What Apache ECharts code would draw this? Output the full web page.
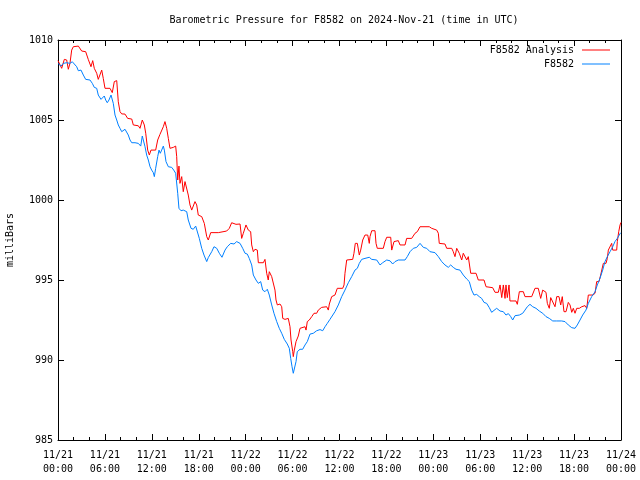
<!DOCTYPE html>
<html>
<head>
<meta charset="utf-8">
<script src="https://cdn.jsdelivr.net/npm/echarts@6/dist/echarts.min.js"></script>
<style>html,body{margin:0;padding:0;background:#fff}#c{width:640px;height:480px}</style>
</head>
<body>
<div id="c"></div>
<script>
// hours since 2024-11-21 00:00 UTC
const analysisHours = [0.0,0.47,0.81,1.11,1.32,1.53,1.75,1.96,2.6,3.03,3.54,3.87,4.22,4.44,4.64,4.95,5.15,5.37,5.59,5.79,6.01,6.65,6.94,7.2,7.51,7.71,7.93,8.15,8.57,8.91,9.43,9.63,10.27,10.49,10.78,11.04,11.22,11.47,11.68,11.89,12.49,12.75,13.04,13.26,13.47,13.68,13.9,14.11,14.32,14.75,15.05,15.18,15.31,15.47,15.6,15.82,16.02,16.24,16.46,16.66,16.88,17.1,17.3,17.52,17.74,17.94,18.38,18.71,19.02,19.22,19.53,20.5,20.72,21.57,21.91,22.21,22.42,22.76,23.28,23.49,23.7,24.04,24.34,24.64,24.77,24.98,25.19,25.49,25.62,26.26,26.47,26.69,26.89,27.02,27.33,27.53,27.75,27.88,28.05,28.39,28.61,28.74,29.03,29.45,29.67,29.8,30.02,30.09,30.22,30.44,30.73,30.95,31.17,31.59,31.72,31.88,32.14,32.45,32.74,33.08,33.29,33.72,33.93,34.36,34.57,34.7,35.0,35.42,35.72,36.41,36.58,36.7,36.92,37.13,37.69,37.85,38.02,38.28,38.53,38.71,38.97,39.26,39.61,39.81,39.9,40.12,40.54,40.67,40.83,41.6,41.82,42.04,42.55,42.68,42.97,43.52,43.74,44.38,44.59,45.23,45.66,45.95,46.3,47.48,47.79,48.43,48.64,48.76,49.49,49.71,50.35,50.55,50.77,50.99,51.32,51.63,51.83,52.05,52.27,52.47,52.78,53.46,53.75,54.48,54.74,55.59,55.89,56.31,56.53,56.75,56.95,57.17,57.29,57.46,57.68,57.8,58.57,58.74,59.0,59.51,59.72,60.58,61.0,61.42,61.73,61.99,62.41,62.58,62.83,63.01,63.56,63.78,64.07,64.29,64.49,64.71,64.97,65.26,65.48,65.7,65.9,66.12,66.34,66.67,66.98,67.4,67.62,67.82,68.42,68.68,68.89,69.19,69.4,69.74,70.08,70.25,70.38,70.6,70.81,70.94,71.45,71.53,71.71,71.88,72.0];
const analysisPressure = [1008.71,1008.23,1008.79,1008.75,1008.17,1008.54,1009.37,1009.58,1009.62,1009.31,1009.27,1008.79,1008.33,1008.71,1008.23,1007.92,1007.54,1007.5,1008.12,1007.6,1006.98,1006.98,1006.71,1007.4,1007.46,1006.14,1005.52,1005.38,1005.37,1005.1,1005.06,1004.69,1004.64,1004.48,1005.0,1004.69,1004.17,1003.12,1002.81,1003.12,1003.12,1003.75,1004.1,1004.06,1004.58,1004.9,1004.48,1003.85,1003.23,1003.29,1003.37,1002.71,1001.25,1002.12,1001.04,1001.46,1000.52,1001.15,1001.04,1000.31,999.69,999.37,999.37,999.9,999.69,999.06,998.96,998.54,997.71,997.5,997.96,997.96,998.06,998.06,998.23,998.58,998.69,998.48,998.5,997.6,997.92,998.44,998.12,998.02,997.19,996.77,996.92,996.87,996.08,996.08,996.29,995.42,995.0,995.52,995.21,995.1,994.37,993.75,993.44,993.5,993.33,992.6,992.54,992.6,992.08,991.25,990.52,990.21,990.62,991.15,991.5,991.98,992.08,992.08,991.87,992.4,992.5,992.71,992.92,992.92,993.12,993.29,993.33,993.33,993.12,993.5,993.96,994.06,994.48,994.48,994.69,995.42,996.25,996.35,996.29,996.67,997.29,997.29,996.56,996.87,997.5,997.81,997.81,997.29,997.71,998.08,998.08,997.29,996.98,996.98,997.4,997.67,997.67,996.87,997.4,997.46,997.19,997.19,997.6,997.6,997.92,998.02,998.33,998.33,998.23,998.12,997.92,997.29,997.25,996.98,996.98,996.77,996.46,996.98,996.67,996.25,996.67,996.77,996.25,996.46,995.42,995.42,995.0,995.0,994.58,994.52,994.23,994.23,994.69,993.9,994.69,993.85,994.69,993.9,994.69,993.69,993.69,993.48,994.27,994.27,993.96,993.96,994.48,994.48,993.85,994.37,994.23,993.54,993.23,993.9,993.33,993.96,993.96,993.44,993.96,993.02,993.02,993.6,993.44,992.98,993.23,992.92,993.23,993.23,993.33,993.4,993.23,994.06,994.06,994.17,994.9,994.9,995.31,996.04,996.04,996.35,996.87,996.87,997.29,996.87,996.87,997.4,998.02,998.44,998.6];
const stationHours = [0.0,0.38,0.68,0.9,1.11,1.53,1.83,2.08,2.39,2.6,2.94,3.24,3.54,4.09,4.39,4.64,4.95,5.15,5.5,5.72,5.92,6.1,6.3,6.52,6.78,6.94,7.07,7.29,7.51,7.71,7.93,8.15,8.35,8.57,8.79,8.99,9.21,9.43,9.85,10.06,10.27,10.58,10.78,10.91,11.13,11.34,11.55,11.77,11.98,12.19,12.32,12.49,12.75,12.92,13.08,13.26,13.47,13.6,13.81,14.11,14.54,14.8,15.05,15.31,15.47,15.73,16.02,16.24,16.46,16.66,17.01,17.3,17.61,17.78,18.07,18.38,18.67,19.02,19.22,19.44,19.66,19.95,20.3,20.63,20.97,21.36,21.65,22.09,22.51,22.85,23.06,23.28,23.62,23.92,24.21,24.46,24.77,24.98,25.32,25.62,25.92,26.18,26.47,26.77,27.02,27.33,27.62,27.97,28.3,28.61,28.94,29.32,29.58,29.76,29.93,30.09,30.31,30.44,30.6,30.95,31.29,31.59,31.88,32.23,32.65,33.08,33.51,33.85,34.15,34.44,34.78,35.0,35.42,35.85,36.28,36.7,37.13,37.56,37.98,38.28,38.53,38.84,39.26,39.81,40.12,40.76,41.18,41.52,42.04,42.46,42.8,43.1,43.52,44.38,44.67,45.02,45.44,45.87,46.3,46.72,47.15,47.57,48.21,48.64,49.07,49.49,49.91,50.22,50.55,50.9,51.41,51.83,52.27,52.6,52.9,53.2,53.54,53.87,54.18,54.48,54.82,55.16,55.46,55.76,56.1,56.53,56.95,57.29,57.59,57.9,58.15,58.45,59.0,59.43,59.72,60.02,60.36,60.71,61.13,61.55,61.99,62.41,62.83,63.27,63.78,64.42,64.84,65.26,65.7,66.12,66.41,66.76,67.1,67.52,67.82,68.25,68.68,68.97,69.31,69.66,69.95,70.25,70.6,70.94,71.23,71.53,71.78,71.94];
const stationPressure = [1008.54,1008.37,1008.54,1008.45,1008.58,1008.54,1008.64,1008.54,1008.33,1008.08,1008.12,1007.81,1007.54,1007.5,1007.29,1007.04,1006.98,1006.56,1006.29,1006.35,1006.5,1006.25,1006.08,1006.25,1006.56,1006.46,1006.04,1005.31,1005.0,1004.69,1004.48,1004.27,1004.33,1004.42,1004.33,1004.06,1003.75,1003.58,1003.58,1003.62,1003.54,1003.37,1004.0,1003.75,1003.33,1002.81,1002.5,1002.08,1001.87,1001.71,1001.46,1001.98,1002.71,1003.12,1002.92,1003.12,1003.37,1003.12,1002.4,1002.08,1002.04,1001.87,1001.67,1000.42,999.48,999.33,999.37,999.48,999.27,998.75,998.23,998.17,998.37,998.37,997.6,996.98,996.56,996.15,996.4,996.35,996.77,997.08,996.98,996.67,996.42,996.87,997.08,997.29,997.25,997.4,997.46,997.29,996.98,996.67,996.62,996.35,995.94,995.31,995.0,994.79,994.9,994.37,994.27,994.42,994.06,993.44,992.92,992.4,991.98,991.67,991.29,991.0,990.73,990.1,989.58,989.17,989.27,989.9,990.52,990.67,990.67,990.94,991.15,991.62,991.67,991.83,991.9,991.83,992.08,992.29,992.54,992.6,993.02,993.44,993.96,994.37,994.83,995.21,995.62,995.73,996.04,996.29,996.35,996.42,996.29,996.25,995.94,996.08,996.25,996.2,996.0,996.15,996.25,996.25,996.46,996.77,996.98,997.04,997.29,997.04,996.98,996.77,996.71,996.46,996.15,995.94,995.79,995.94,995.79,995.67,995.62,995.31,995.06,994.9,994.37,994.06,994.1,993.96,993.85,993.6,993.54,993.27,992.98,993.1,993.23,993.06,993.02,992.81,992.9,992.71,992.5,992.77,992.81,992.92,993.12,993.33,993.48,993.33,993.23,993.06,992.92,992.71,992.6,992.44,992.44,992.44,992.4,992.19,992.02,991.98,992.19,992.5,992.81,993.12,993.54,993.96,994.27,994.69,995.1,995.62,996.15,996.46,996.77,997.08,997.4,997.6,997.81,997.95];
const xTickLabels = ['11/21\n00:00','11/21\n06:00','11/21\n12:00','11/21\n18:00','11/22\n00:00','11/22\n06:00','11/22\n12:00','11/22\n18:00','11/23\n00:00','11/23\n06:00','11/23\n12:00','11/23\n18:00','11/24\n00:00'];
const seriesNames = ['F8582 Analysis','F8582'];

const zip = (a,b) => a.map((v,i)=>[v,b[i]]);
const FONT = 'DejaVu Sans Mono';
const axisBase = {
  axisLine:{show:true,onZero:false,lineStyle:{color:'#000',width:1}},
  axisTick:{show:true,inside:true,length:6,lineStyle:{color:'#000'}},
  splitLine:{show:false}
};
const chart = echarts.init(document.getElementById('c'), null, {renderer:'canvas'});
chart.setOption({
  animation:false,
  backgroundColor:'#fff',
  textStyle:{fontFamily:FONT},
  title:{text:'Barometric Pressure for F8582 on 2024-Nov-21 (time in UTC)',left:339,top:10,textAlign:'center',
    textStyle:{fontFamily:FONT,fontSize:10,fontWeight:'normal',color:'#000'}},
  legend:{orient:'vertical',right:30,top:44,padding:0,align:'right',icon:'rect',itemWidth:28,itemHeight:1,itemGap:2,
    data:seriesNames,textStyle:{fontFamily:FONT,fontSize:10,color:'#000',lineHeight:12,padding:[0,3,0,0]}},
  grid:{left:58,right:19,top:40,bottom:40,containLabel:false,outerBoundsMode:'none'},
  xAxis:[
    Object.assign({type:'value',min:0,max:72,interval:6,position:'bottom',
      minorTick:{show:true,splitNumber:3,length:3,lineStyle:{color:'#000'}},
      axisLabel:{margin:8,color:'#000',fontFamily:FONT,fontSize:10,lineHeight:14,
        formatter:v=>xTickLabels[Math.round(v/6)]}},axisBase),
    Object.assign({type:'value',min:0,max:72,interval:6,position:'top',
      minorTick:{show:true,splitNumber:3,length:3,lineStyle:{color:'#000'}},
      axisLabel:{show:false}},axisBase)
  ],
  yAxis:[
    Object.assign({type:'value',min:985,max:1010,interval:5,position:'left',
      name:'milliBars',nameLocation:'middle',nameGap:43,nameRotate:90,
      nameTextStyle:{fontFamily:FONT,fontSize:10,color:'#000'},
      axisLabel:{margin:5,color:'#000',fontFamily:FONT,fontSize:10,formatter:v=>String(v)}},axisBase),
    Object.assign({type:'value',min:985,max:1010,interval:5,position:'right',
      axisLabel:{show:false}},axisBase)
  ],
  series:[
    {name:seriesNames[0],type:'line',symbol:'none',data:zip(analysisHours,analysisPressure),
      lineStyle:{color:'#ff0000',width:1},itemStyle:{color:'#ff0000'}},
    {name:seriesNames[1],type:'line',symbol:'none',data:zip(stationHours,stationPressure),
      lineStyle:{color:'#0080ff',width:1},itemStyle:{color:'#0080ff'}}
  ]
});
</script>
</body>
</html>
